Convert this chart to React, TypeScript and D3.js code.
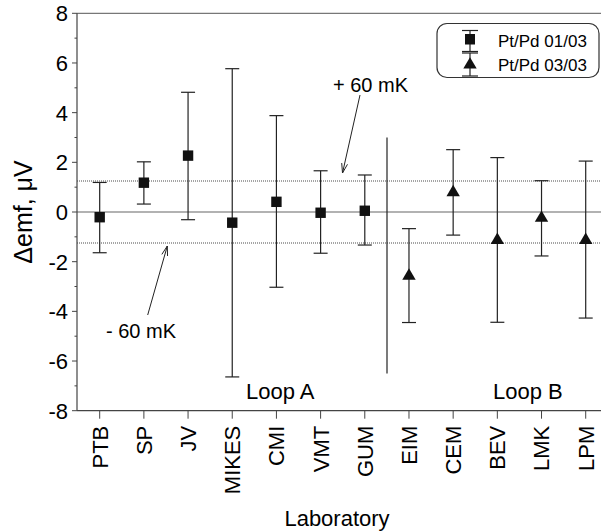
import { useEffect, useRef } from 'react';
import * as d3 from 'd3';

// laboratories along the x axis
const labs = ['PTB', 'SP', 'JV', 'MIKES', 'CMI', 'VMT', 'GUM', 'EIM', 'CEM', 'BEV', 'LMK', 'LPM'];

// Loop A, Pt/Pd 01/03 (squares)
const loopALabs = ['PTB', 'SP', 'JV', 'MIKES', 'CMI', 'VMT', 'GUM'];
const loopAVal = [-0.21, 1.18, 2.27, -0.43, 0.41, -0.03, 0.05];
const loopALo = [-1.64, 0.32, -0.31, -6.64, -3.03, -1.66, -1.33];
const loopAHi = [1.19, 2.02, 4.82, 5.77, 3.88, 1.66, 1.49];

// Loop B, Pt/Pd 03/03 (triangles)
const loopBLabs = ['EIM', 'CEM', 'BEV', 'LMK', 'LPM'];
const loopBVal = [-2.5, 0.86, -1.06, -0.17, -1.06];
const loopBLo = [-4.45, -0.93, -4.44, -1.77, -4.27];
const loopBHi = [-0.67, 2.51, 2.19, 1.26, 2.05];

const yTicks = [-8, -6, -4, -2, 0, 2, 4, 6, 8];
const yMinor = [-7, -5, -3, -1, 1, 3, 5, 7];
const band = 1.25; // +-60 mK expressed in uV
const legendLabels = ['Pt/Pd 01/03', 'Pt/Pd 03/03'];

const FONT = 'Arial, "Liberation Sans", Helvetica, sans-serif';

const App = () => {
  const svgRef = useRef<SVGSVGElement>(null);

  useEffect(() => {
    const width = 601;
    const height = 531;
    const left = 77;

    const svg = d3.select(svgRef.current);
    svg.selectAll('*').remove();
    svg.attr('width', width).attr('height', height);

    const x = d3.scalePoint<string>().domain(labs).range([77.6, 607.8]).padding(0.5);
    const y = d3.scaleLinear().domain([-8, 8]).range([410.7, 13.3]);

    const axisColor = '#444';

    // top frame line
    svg.append('line')
      .attr('x1', left).attr('x2', width)
      .attr('y1', y(8)).attr('y2', y(8))
      .attr('stroke', '#777').attr('stroke-width', 1.2);

    // zero line and +-60 mK lines
    svg.append('line')
      .attr('x1', left).attr('x2', width)
      .attr('y1', y(0)).attr('y2', y(0))
      .attr('stroke', '#666').attr('stroke-width', 1.2);
    [band, -band].forEach(v => {
      svg.append('line')
        .attr('x1', left).attr('x2', width)
        .attr('y1', y(v)).attr('y2', y(v))
        .attr('stroke', '#888').attr('stroke-width', 1.4)
        .attr('stroke-dasharray', '1,1');
    });

    // separator between loops
    svg.append('line')
      .attr('x1', 387).attr('x2', 387)
      .attr('y1', y(3)).attr('y2', y(-6.5))
      .attr('stroke', '#222').attr('stroke-width', 1.2);

    // y axis
    const yAxis = svg.append('g').attr('transform', `translate(${left},0)`);
    yAxis.append('line').attr('y1', y(8)).attr('y2', y(-8)).attr('stroke', axisColor).attr('stroke-width', 1.2);
    yTicks.forEach(t => {
      yAxis.append('line').attr('x1', -5).attr('x2', 0).attr('y1', y(t)).attr('y2', y(t)).attr('stroke', axisColor);
      yAxis.append('text')
        .attr('x', -9).attr('y', y(t)).attr('dy', '0.36em')
        .attr('text-anchor', 'end')
        .attr('font-size', 22).attr('font-family', FONT)
        .text(t);
    });
    yMinor.forEach(t => {
      yAxis.append('line').attr('x1', -2.5).attr('x2', 0).attr('y1', y(t)).attr('y2', y(t)).attr('stroke', axisColor);
    });

    // x axis
    const xAxis = svg.append('g').attr('transform', `translate(0,${y(-8)})`);
    xAxis.append('line').attr('x1', left).attr('x2', width).attr('stroke', axisColor).attr('stroke-width', 1.2);
    labs.forEach(l => {
      xAxis.append('line').attr('x1', x(l)!).attr('x2', x(l)!).attr('y1', 0).attr('y2', 8).attr('stroke', axisColor);
      xAxis.append('text')
        .attr('transform', `translate(${x(l)},15) rotate(-90)`)
        .attr('dy', '0.36em')
        .attr('text-anchor', 'end')
        .attr('font-size', 22).attr('font-family', FONT)
        .text(l);
    });

    const errBar = (g: any, cx: number, lo: number, hi: number) => {
      g.append('line').attr('x1', cx).attr('x2', cx).attr('y1', y(lo)).attr('y2', y(hi)).attr('stroke', '#222').attr('stroke-width', 1.2);
      [lo, hi].forEach(v => {
        g.append('line').attr('x1', cx - 7).attr('x2', cx + 7).attr('y1', y(v)).attr('y2', y(v)).attr('stroke', '#222').attr('stroke-width', 1.2);
      });
    };

    const marks = svg.append('g');
    loopALabs.forEach((l, i) => {
      const cx = x(l)!;
      errBar(marks, cx, loopALo[i], loopAHi[i]);
      marks.append('rect')
        .attr('x', cx - 5.2).attr('y', y(loopAVal[i]) - 5.2)
        .attr('width', 10.4).attr('height', 10.4)
        .attr('fill', '#111');
    });
    const tri = 'M0,-5.8L6.7,5.6L-6.7,5.6Z';
    loopBLabs.forEach((l, i) => {
      const cx = x(l)!;
      errBar(marks, cx, loopBLo[i], loopBHi[i]);
      marks.append('path')
        .attr('d', tri)
        .attr('transform', `translate(${cx},${y(loopBVal[i])})`)
        .attr('fill', '#111');
    });

    // annotations
    const ann = svg.append('g').attr('font-family', FONT).attr('font-size', 20);
    ann.append('text').attr('x', 333).attr('y', 92).text('+ 60 mK');
    ann.append('text').attr('x', 106).attr('y', 338).text('- 60 mK');

    const arrow = (x1: number, y1: number, x2: number, y2: number) => {
      ann.append('line').attr('x1', x1).attr('y1', y1).attr('x2', x2).attr('y2', y2).attr('stroke', '#222').attr('stroke-width', 1);
      const a = Math.atan2(y2 - y1, x2 - x1);
      const len = 10;
      const spread = 0.3;
      const p1 = [x2 - len * Math.cos(a - spread), y2 - len * Math.sin(a - spread)];
      const p2 = [x2 - len * Math.cos(a + spread), y2 - len * Math.sin(a + spread)];
      ann.append('path')
        .attr('d', `M${p1[0]},${p1[1]}L${x2},${y2}L${p2[0]},${p2[1]}`)
        .attr('fill', 'none').attr('stroke', '#222').attr('stroke-width', 1);
    };
    arrow(360, 95, 342.5, 173);
    arrow(147.7, 315, 167.3, 246);

    ann.append('text').attr('x', 246).attr('y', 399).attr('font-size', 22).text('Loop A');
    ann.append('text').attr('x', 493).attr('y', 399).attr('font-size', 22).text('Loop B');

    // axis titles
    svg.append('text')
      .attr('x', 337).attr('y', 526)
      .attr('text-anchor', 'middle')
      .attr('font-size', 22).attr('font-family', FONT)
      .text('Laboratory');
    svg.append('text')
      .attr('transform', `translate(32,212) rotate(-90)`)
      .attr('text-anchor', 'middle')
      .attr('font-size', 25).attr('font-family', FONT)
      .text('Δemf, μV');

    // legend
    const leg = svg.append('g');
    leg.append('rect')
      .attr('x', 437).attr('y', 23.5).attr('width', 162).attr('height', 54).attr('rx', 10)
      .attr('fill', 'white').attr('stroke', '#333').attr('stroke-width', 1.2);
    const lx = 470;
    [[30.5, 51.5], [53, 76]].forEach(([a, b]) => {
      leg.append('line').attr('x1', lx).attr('x2', lx).attr('y1', a).attr('y2', b).attr('stroke', '#222').attr('stroke-width', 1.2);
      [a, b].forEach(v => {
        leg.append('line').attr('x1', lx - 8).attr('x2', lx + 8).attr('y1', v).attr('y2', v).attr('stroke', '#222').attr('stroke-width', 1.2);
      });
    });
    leg.append('rect').attr('x', lx - 5).attr('y', 34).attr('width', 10).attr('height', 10.5).attr('fill', '#111');
    leg.append('path').attr('d', tri).attr('transform', `translate(${lx},63)`).attr('fill', '#111');
    legendLabels.forEach((t, i) => {
      leg.append('text')
        .attr('x', 498).attr('y', 46.5 + i * 24)
        .attr('font-size', 17).attr('font-family', FONT)
        .text(t);
    });
  }, []);

  return (
    <svg ref={svgRef} style={{ position: 'absolute', left: 0, top: 0 }}></svg>
  );
};

export default App;
